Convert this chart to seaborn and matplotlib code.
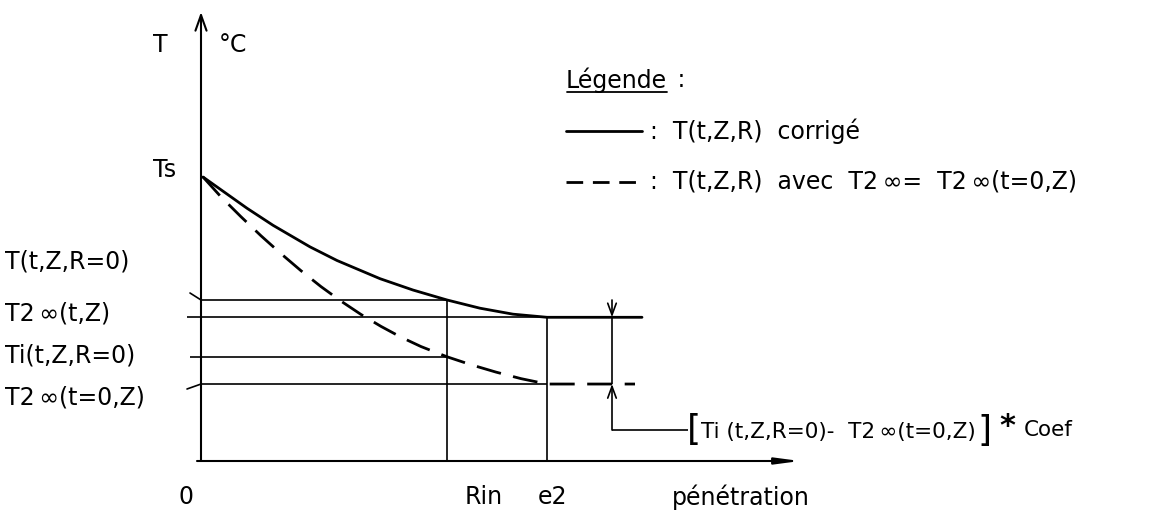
import matplotlib
matplotlib.use("Agg")
import matplotlib.pyplot as plt
import seaborn as sns

# ---------------- profile data ----------------
# temperature levels (°C) read on the vertical axis
Ts = 100.0          # surface temperature
T_R0 = 56.7         # T(t,Z,R=0)
T2inf_t = 50.6      # T2∞(t,Z)
Ti_R0 = 36.7        # Ti(t,Z,R=0)
T2inf_0 = 27.1      # T2∞(t=0,Z)

# penetration depths
Rin = 2.46
e2 = 3.46

# corrected profile T(t,Z,R)
x_corr = [0.02, 0.22, 0.46, 0.72, 1.09, 1.36, 1.79, 2.12, 2.46, 2.79, 3.12, 3.46, 4.41]
T_corr = [100.0, 95.0, 89.0, 83.0, 75.4, 70.6, 64.2, 60.2, 56.7, 53.8, 51.7, 50.6, 50.6]

# profile T(t,Z,R) with T2∞ = T2∞(t=0,Z)
x_t0 = [0.02, 0.2, 0.4, 0.6, 0.8, 1.0, 1.2, 1.4, 1.6, 1.8, 2.0, 2.2, 2.46, 2.7, 2.95, 3.2, 3.46, 4.34]
T_t0 = [100.0, 93.0, 86.0, 79.3, 73.0, 67.0, 61.4, 56.3, 51.6, 47.4, 43.6, 40.3, 36.7, 33.9, 31.3, 29.0, 27.1, 27.1]

level_labels = ["T(t,Z,R=0)", "T2\u2009∞(t,Z)", "Ti(t,Z,R=0)", "T2\u2009∞(t=0,Z)"]
depth_labels = ["0", "Rin", "e2", "pénétration"]
legend_title = "Légende"
legend_labels = [":  T(t,Z,R)  corrigé", ":  T(t,Z,R)  avec  T2\u2009∞=  T2\u2009∞(t=0,Z)"]

# ---------------- layout ----------------
W, H = 1172, 513
X0, XS = 201.0, 100.0    # pixel of x = 0, pixels per unit
Y0, YS = 461.0, 2.84     # pixel of T = 0, pixels per °C


def px(xp, yp):
    """Pixel position -> data position (used for text / decoration placement)."""
    return (xp - X0) / XS, (Y0 - yp) / YS


sns.set_theme(style="white")
plt.rcParams["font.family"] = ["DejaVu Sans"]
FS = 17
INK = "black"

fig = plt.figure(figsize=(W / 100, H / 100), dpi=100)
ax = fig.add_axes([0, 0, 1, 1])
ax.set_xlim(-X0 / XS, (W - X0) / XS)
ax.set_ylim((Y0 - H) / YS, Y0 / YS)
ax.axis("off")

# axes with arrows
ax.annotate("", xy=px(201, 12), xytext=(0, 0),
            arrowprops=dict(arrowstyle="->,head_width=0.25,head_length=0.7", lw=1.5,
                            color=INK, shrinkA=0, shrinkB=0, mutation_scale=16))
ax.annotate("", xy=px(800, 461), xytext=px(197, 461),
            arrowprops=dict(arrowstyle="-|>,head_width=0.12,head_length=0.9", lw=1.5,
                            color=INK, shrinkA=0, shrinkB=0, mutation_scale=16))

# thin reference levels
thin = 1.2
ax.hlines(T_R0, 0, Rin, color=INK, lw=thin)
ax.hlines(T2inf_t, px(187, 0)[0], e2, color=INK, lw=thin)
ax.hlines(Ti_R0, px(190, 0)[0], Rin, color=INK, lw=thin)
ax.hlines(T2inf_0, 0, e2, color=INK, lw=thin)
ax.plot(*zip(px(190, 293), (0, T_R0)), color=INK, lw=thin)
ax.plot(*zip(px(187, 389), (0, T2inf_0)), color=INK, lw=thin)

# verticals at Rin and e2
ax.vlines(Rin, 0, T_R0, color=INK, lw=thin)
ax.vlines(e2, 0, T2inf_t, color=INK, lw=thin)

# temperature profiles
sns.lineplot(x=x_corr, y=T_corr, ax=ax, color=INK, lw=2.0, sort=False, estimator=None)
sns.lineplot(x=x_t0, y=T_t0, ax=ax, color=INK, lw=2.0, sort=False, estimator=None,
             linestyle=(0, (9, 4.5)))

# dimension between T2∞(t,Z) and T2∞(t=0,Z)
xd = px(612, 0)[0]
yk = px(0, 430)[1]
ax.vlines(xd, T2inf_0, T2inf_t, color=INK, lw=thin)
ax.annotate("", xy=(xd, T2inf_t), xytext=(xd, px(0, 300)[1]),
            arrowprops=dict(arrowstyle="->,head_width=0.22,head_length=0.6", lw=thin,
                            color=INK, shrinkA=0, shrinkB=0, mutation_scale=14))
ax.annotate("", xy=(xd, T2inf_0), xytext=(xd, yk),
            arrowprops=dict(arrowstyle="->,head_width=0.22,head_length=0.6", lw=thin,
                            color=INK, shrinkA=0, shrinkB=0, mutation_scale=14))
ax.hlines(yk, xd, px(688, 0)[0], color=INK, lw=thin)

# bracketed correction term
xb, yb = px(687, 430)
t0 = ax.text(xb, yb, "[", fontsize=26, va="center", ha="left", color=INK)
t1 = ax.annotate("Ti (t,Z,R=0)-  T2\u2009∞(t=0,Z)", xy=(1, 0.45), xycoords=t0,
                 xytext=(0, 0), textcoords="offset points", va="center", ha="left",
                 fontsize=15.5, color=INK)
t2 = ax.annotate("]", xy=(1, 0.55), xycoords=t1, xytext=(1, 0), textcoords="offset points",
                 va="center", ha="left", fontsize=26, color=INK)
t3 = ax.annotate("*", xy=(1, 0.62), xycoords=t2, xytext=(6, 0), textcoords="offset points",
                 va="center", ha="left", fontsize=22, fontweight="bold", color=INK)
ax.annotate("Coef", xy=(1, 0.38), xycoords=t3, xytext=(6, 0), textcoords="offset points",
            va="center", ha="left", fontsize=15.5, color=INK)

# axis titles
ax.text(*px(160, 45), "T", fontsize=FS, ha="center", va="center", color=INK)
ax.text(*px(233, 45), "°C", fontsize=FS, ha="center", va="center", color=INK)
ax.text(*px(165, 170), "Ts", fontsize=FS, ha="center", va="center", color=INK)

# level labels on the left
for lab, yp in zip(level_labels, [262, 314, 355, 397]):
    ax.text(*px(5, yp), lab, fontsize=FS, ha="left", va="center", color=INK)

# depth labels under the x axis
for lab, xp in zip(depth_labels, [186, 484, 553, 741]):
    ax.text(*px(xp, 497), lab, fontsize=FS, ha="center", va="center", color=INK)

# legend
t_leg = ax.text(*px(566, 80), legend_title, fontsize=FS, ha="left", va="center", color=INK)
ax.annotate(" :", xy=(1, 0.5), xycoords=t_leg, xytext=(2, 0), textcoords="offset points",
            va="center", ha="left", fontsize=FS, color=INK)
ax.plot(*zip(px(566, 131), px(642, 131)), color=INK, lw=2.0)
ax.text(*px(650, 131), legend_labels[0], fontsize=FS, ha="left", va="center", color=INK)
ax.plot(*zip(px(566, 182), px(642, 182)), color=INK, lw=2.0, linestyle=(0, (6, 3.5)))
ax.text(*px(650, 182), legend_labels[1], fontsize=FS, ha="left", va="center", color=INK)

fig.canvas.draw()
bb = t_leg.get_window_extent()
inv = ax.transData.inverted()
(ux0, uy), (ux1, _) = inv.transform([(bb.x0 + 1, bb.y0 + 1), (bb.x1, bb.y0 + 1)])
ax.plot([ux0, ux1], [uy, uy], color=INK, lw=1.3)

fig.savefig("out.png", dpi=100, facecolor="white")
